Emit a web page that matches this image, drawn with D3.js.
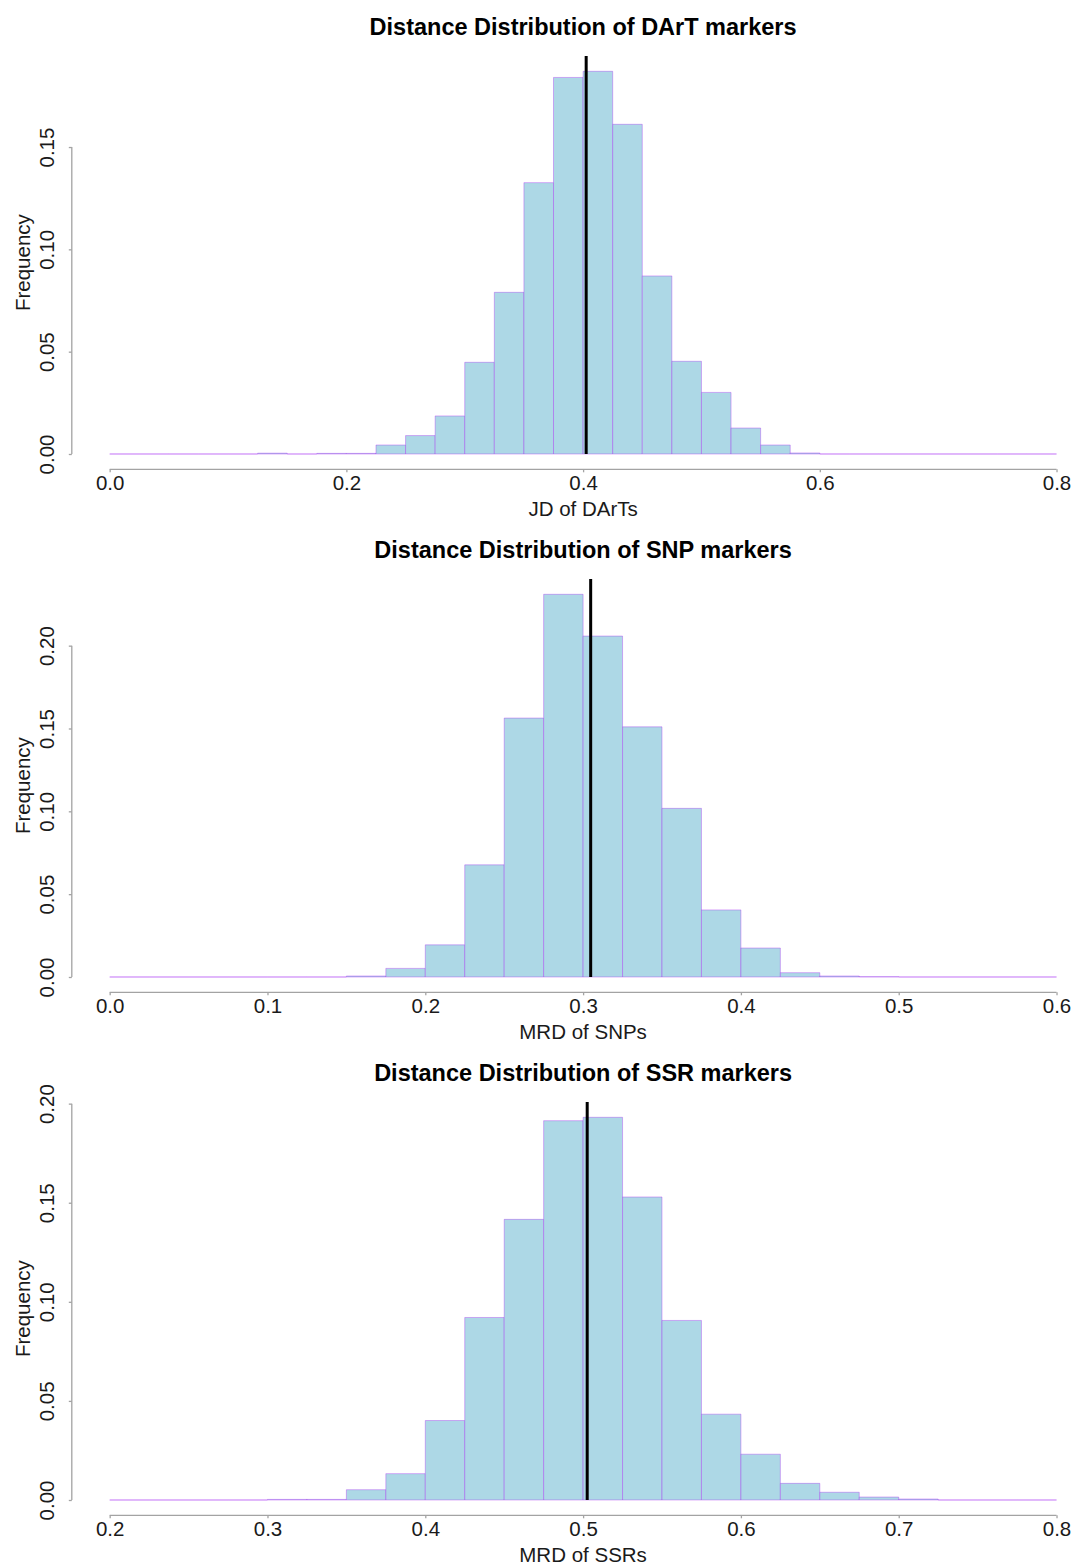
<!DOCTYPE html>
<html><head><meta charset="utf-8">
<script src="https://cdn.jsdelivr.net/npm/d3@7"></script>
<style>
body{margin:0;background:#fff}
svg{display:block}
text{font-family:"Liberation Sans",Arial,Helvetica,sans-serif}
</style></head>
<body><svg id="chart" width="1077" height="1564"></svg>
<script>
// ---- data ----
const titles = ["Distance Distribution of DArT markers", "Distance Distribution of SNP markers", "Distance Distribution of SSR markers"];
const xTitles = ["JD of DArTs", "MRD of SNPs", "MRD of SSRs"];
const binWidth = 0.025;
const binStarts = [0.0, 0.0, 0.2];
const dartFreq = [0, 0, 0, 0, 0, 0.0004, 0, 0.0003, 0.0003, 0.0044, 0.0090, 0.0186, 0.0448, 0.0790, 0.1326, 0.1840,
                  0.1870, 0.1611, 0.0870, 0.0453, 0.0301, 0.0127, 0.0044, 0.0005, 0, 0, 0, 0, 0, 0, 0, 0];
const snpFreq = [0, 0, 0, 0, 0, 0, 0.0006, 0.0052, 0.0194, 0.0677, 0.1563, 0.2310,
                 0.2058, 0.1510, 0.1018, 0.0405, 0.0175, 0.0026, 0.0006, 0.0002, 0, 0, 0, 0];
const ssrFreq = [0, 0, 0, 0, 0.0003, 0.0003, 0.0052, 0.0133, 0.0401, 0.0921, 0.1416, 0.1914,
                 0.1931, 0.1529, 0.0906, 0.0433, 0.0231, 0.0084, 0.0039, 0.0015, 0.0005, 0, 0, 0];
const means = [0.4026, 0.3048, 0.5026];
const xTicks = [[0.0, 0.2, 0.4, 0.6, 0.8], [0.0, 0.1, 0.2, 0.3, 0.4, 0.5, 0.6], [0.2, 0.3, 0.4, 0.5, 0.6, 0.7, 0.8]];
const yTicks = [[0.00, 0.05, 0.10, 0.15], [0.00, 0.05, 0.10, 0.15, 0.20], [0.00, 0.05, 0.10, 0.15, 0.20]];
const freqs = [dartFreq, snpFreq, ssrFreq];

// ---- layout ----
const svg = d3.select("#chart");
const panelStep = 523;
const plotL = 71.8, plotR = 1094.4, plotT = 56, plotB = 469.3;
const axisCol = "#a3a3a3";
const textCol = "#1a1a1a";
const fmtY = d3.format(".2f"), fmtX = d3.format(".1f");

freqs.forEach((vals, i) => {
  const g = svg.append("g").attr("transform", `translate(0,${i * panelStep})`);
  const x0 = binStarts[i];
  const bins = vals.map((v, k) => ({x0: x0 + k * binWidth, x1: x0 + (k + 1) * binWidth, v}));
  const xmin = x0, xmax = x0 + vals.length * binWidth;
  const xr = xmax - xmin;
  const x = d3.scaleLinear().domain([xmin - 0.04 * xr, xmax + 0.04 * xr]).range([plotL, plotR]);
  const ymax = d3.max(vals);
  const y = d3.scaleLinear().domain([-0.04 * ymax, 1.04 * ymax]).range([plotB, plotT]);

  // bars
  g.append("g").selectAll("path").data(bins).join("path")
    .attr("d", d => `M${x(d.x0)},${y(0)}V${y(d.v)}H${x(d.x1)}V${y(0)}Z`)
    .attr("fill", "#ADD8E6")
    .attr("stroke", "rgb(160,32,240)")
    .attr("stroke-opacity", 0.35)
    .attr("stroke-width", 1);

  // mean line
  g.append("line")
    .attr("x1", x(means[i])).attr("x2", x(means[i]))
    .attr("y1", y(0)).attr("y2", y.range()[1])
    .attr("stroke", "#000").attr("stroke-width", 3);

  // x axis
  const xt = xTicks[i];
  const xa = g.append("g").attr("transform", `translate(0,${plotB})`)
    .call(d3.axisBottom(x).tickValues(xt).tickFormat(fmtX).tickSize(3).tickSizeOuter(0));
  xa.select(".domain").remove();
  xa.append("line").attr("x1", x(xt[0])).attr("x2", x(xt[xt.length - 1]))
    .attr("stroke", axisCol).attr("stroke-width", 1.3);
  xa.selectAll(".tick line").attr("stroke", axisCol).attr("stroke-width", 1.3);
  xa.selectAll(".tick text").attr("y", 6).attr("dy", "0.71em")
    .attr("fill", textCol).style("font-size", "20.5px").style("font-family", '"Liberation Sans",Arial,sans-serif');

  // y axis
  const yt = yTicks[i];
  const ya = g.append("g").attr("transform", `translate(${plotL},0)`)
    .call(d3.axisLeft(y).tickValues(yt).tickFormat(fmtY).tickSize(3).tickSizeOuter(0));
  ya.select(".domain").remove();
  ya.append("line").attr("y1", y(yt[0])).attr("y2", y(yt[yt.length - 1]))
    .attr("stroke", axisCol).attr("stroke-width", 1.3);
  ya.selectAll(".tick line").attr("stroke", axisCol).attr("stroke-width", 1.3);
  ya.selectAll(".tick text")
    .attr("x", null).attr("dy", "0.36em")
    .attr("transform", "translate(-25,0) rotate(-90)")
    .attr("text-anchor", "middle")
    .attr("fill", textCol).style("font-size", "20.5px").style("font-family", '"Liberation Sans",Arial,sans-serif');

  // titles
  const cx = (plotL + plotR) / 2;
  g.append("text").attr("x", cx).attr("y", 35).attr("text-anchor", "middle")
    .style("font-size", "23.5px").style("font-weight", "bold").attr("fill", "#000")
    .text(titles[i]);
  g.append("text").attr("x", cx).attr("y", 515.5).attr("text-anchor", "middle")
    .style("font-size", "20.5px").attr("fill", textCol).text(xTitles[i]);
  g.append("text").attr("transform", `translate(23,${(plotT + plotB) / 2}) rotate(-90)`)
    .attr("dy", "0.36em").attr("text-anchor", "middle")
    .style("font-size", "20.5px").attr("fill", textCol).text("Frequency");
});
</script></body></html>
